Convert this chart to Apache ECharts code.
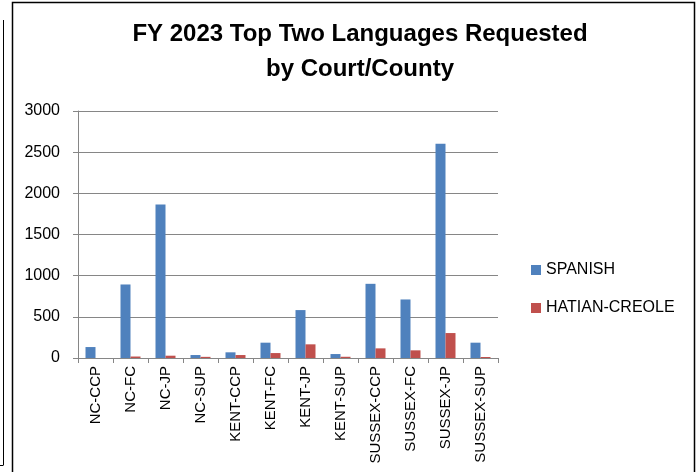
<!DOCTYPE html>
<html>
<head>
<meta charset="utf-8">
<script src="https://cdn.jsdelivr.net/npm/echarts@6/dist/echarts.min.js"></script>
<style>
  html, body { margin: 0; padding: 0; background: #fff; }
  #chart { width: 699px; height: 472px; }
</style>
</head>
<body>
<div id="chart"></div>
<script>
// court / county categories
const courts = ['NC-CCP', 'NC-FC', 'NC-JP', 'NC-SUP', 'KENT-CCP', 'KENT-FC', 'KENT-JP',
  'KENT-SUP', 'SUSSEX-CCP', 'SUSSEX-FC', 'SUSSEX-JP', 'SUSSEX-SUP'];
// requests
const spanish = [133, 893, 1863, 36, 69, 186, 582, 48, 901, 711, 2602, 186];
const haitianCreole = [0, 18, 28, 14, 36, 60, 166, 15, 117, 93, 303, 12];
const yTicks = [0, 500, 1000, 1500, 2000, 2500, 3000];

const font = 'Liberation Sans';
let chart = echarts.init(document.getElementById('chart'));

let option = {
  backgroundColor: '#fff',
  animation: false,
  title: {
    text: 'FY 2023 Top Two Languages Requested\nby Court/County',
    left: 355,
    textAlign: 'center',
    top: 12,
    textStyle: {
      fontFamily: font,
      fontSize: 24,
      fontWeight: 'bold',
      color: '#000',
      lineHeight: 35
    }
  },
  legend: {
    orient: 'vertical',
    left: 526,
    top: 257,
    itemWidth: 10,
    itemHeight: 10,
    itemGap: 22,
    icon: 'rect',
    textStyle: { fontFamily: font, fontSize: 16, color: '#000' },
    data: ['SPANISH', 'HATIAN-CREOLE']
  },
  grid: { left: 78, right: 201, top: 111, bottom: 114 },
  xAxis: {
    type: 'category',
    data: courts,
    axisLine: { lineStyle: { color: '#868686', width: 1 } },
    axisTick: { show: true, length: 5, lineStyle: { color: '#868686' } },
    axisLabel: { rotate: 90, fontFamily: font, fontSize: 15, color: '#000', margin: 8, interval: 0 }
  },
  yAxis: {
    type: 'value',
    min: 0,
    max: 3000,
    interval: 500,
    axisLine: { show: true, lineStyle: { color: '#868686', width: 1 } },
    axisTick: { show: true, length: 5, lineStyle: { color: '#868686' } },
    axisLabel: {
      fontFamily: font, fontSize: 16, color: '#000', margin: 18,
      formatter: v => yTicks.includes(v) ? String(v) : ''
    },
    splitLine: { lineStyle: { color: '#868686', width: 1 } }
  },
  series: [
    {
      name: 'SPANISH',
      type: 'bar',
      data: spanish,
      barWidth: 10,
      barGap: '0%',
      itemStyle: { color: '#4F81BD' }
    },
    {
      name: 'HATIAN-CREOLE',
      type: 'bar',
      data: haitianCreole,
      barWidth: 10,
      itemStyle: { color: '#C0504D' }
    }
  ],
  graphic: [
    // chart frame
    { type: 'rect', shape: { x: 12.5, y: 2.5, width: 682, height: 472 },
      style: { fill: null, stroke: '#000', lineWidth: 1.5 }, silent: true },
    // edge of the neighbouring chart at the left
    { type: 'line', shape: { x1: 3.5, y1: 20, x2: 3.5, y2: 465 },
      style: { stroke: '#000', lineWidth: 1 }, silent: true },
    { type: 'line', shape: { x1: 0, y1: 465.5, x2: 3.5, y2: 465.5 },
      style: { stroke: '#000', lineWidth: 1 }, silent: true }
  ]
};
chart.setOption(option);
</script>
</body>
</html>
